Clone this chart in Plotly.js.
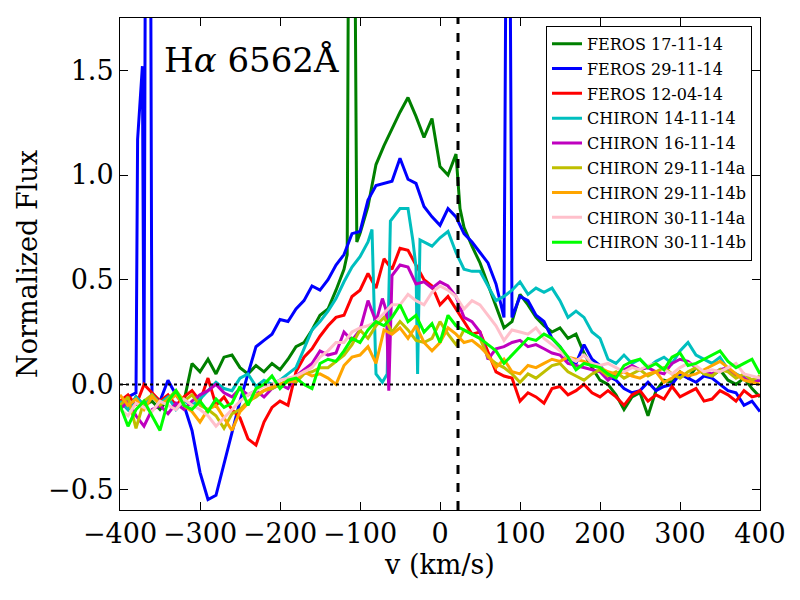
<!DOCTYPE html>
<html>
<head>
<meta charset="utf-8">
<script src="https://cdn.plot.ly/plotly-3.0.1.min.js"></script>
<style>
  html, body { margin: 0; padding: 0; background: #fff; }
  #plot { width: 800px; height: 600px; }
</style>
</head>
<body>
<div id="plot"></div>
<script>
// velocity grid (km/s) shared by the smoother CHIRON/FEROS series
var vel = [-400,-390,-380,-370,-360,-350,-340,-330,-320,-310,
           -300,-290,-280,-270,-260,-250,-240,-230,-220,-210,
           -200,-190,-180,-170,-160,-150,-140,-130,-120,-110,
           -100,-90,-80,-70,-60,-50,-40,-30,-20,-10,
           0,10,20,30,40,50,60,70,80,90,
           100,110,120,130,140,150,160,170,180,190,
           200,210,220,230,240,250,260,270,280,290,
           300,310,320,330,340,350,360,370,380,390,400];

// FEROS 29-11-14 (has narrow spikes, so its own velocities)
var blueV = [-400,-390,-380,-378,-372,-370,-368,-362,-360,
             -350,-340,-330,-320,-310,-300,-290,-280,-270,-260,
             -250,-240,-230,-220,-210,-200,-190,-180,-170,-160,
             -150,-140,-130,-120,-110,-100,-90,-80,-70,-60,
             -50,-40,-30,-20,-10,0,10,20,30,40,50,60,70,80,
             83,87,90,
             100,110,120,130,140,150,160,170,180,190,
             200,210,220,230,240,250,260,270,280,290,
             300,310,320,330,340,350,360,370,380,390,400];
var blueF = [-0.10,-0.06,-0.04,1.17,1.52,0.00,2.5,2.5,-0.05,
             -0.08,0.02,-0.05,-0.10,-0.22,-0.42,-0.55,-0.53,-0.38,-0.22,
             -0.08,0.05,0.18,0.21,0.24,0.31,0.30,0.36,0.40,0.47,
             0.45,0.50,0.57,0.62,0.72,0.73,0.88,0.95,0.96,0.97,
             1.08,0.98,0.96,0.85,0.80,0.76,0.84,0.80,0.72,0.68,0.63,0.58,0.48,0.32,
             2.5,2.5,0.32,
             0.42,0.40,0.33,0.30,0.22,0.18,0.12,0.10,0.19,0.12,
             0.09,0.04,0.02,-0.02,-0.04,-0.03,0.01,-0.03,-0.01,0.00,
             0.05,0.03,0.01,0.04,0.03,0.00,-0.03,-0.04,-0.10,-0.08,-0.13];

// FEROS 17-11-14
var greenV = [-400,-390,-380,-370,-360,-350,-340,-330,-320,-310,
              -300,-290,-280,-270,-260,-250,-240,-230,-220,-210,
              -200,-190,-180,-170,-160,-150,-140,-130,-120,
              -116,-114,-107,-104,
              -100,-90,-80,-70,-60,-50,-40,-30,-20,-10,
              0,10,20,25,30,40,50,60,70,80,90,
              100,110,120,130,140,150,160,170,180,190,
              200,210,220,230,240,250,260,270,280,290,
              300,310,320,330,340,350,360,370,380,390,400];
var greenF = [-0.08,-0.12,-0.06,-0.10,-0.08,-0.12,-0.07,-0.10,-0.08,0.10,
              0.06,0.12,0.05,0.13,0.14,0.08,0.05,0.09,0.06,0.10,
              0.07,0.12,0.18,0.20,0.26,0.33,0.36,0.45,0.55,
              0.62,2.5,2.5,0.68,
              0.72,0.85,1.05,1.14,1.22,1.30,1.37,1.28,1.18,1.27,
              1.04,1.00,1.10,0.84,0.75,0.66,0.58,0.48,0.38,0.27,0.30,
              0.43,0.38,0.32,0.28,0.25,0.27,0.22,0.24,0.15,0.08,
              0.02,0.00,-0.05,-0.12,-0.06,-0.04,-0.15,-0.03,0.02,0.01,
              0.06,0.03,0.08,0.05,0.04,0.07,0.02,0.00,0.03,-0.02,-0.06];

// FEROS 12-04-14
var redF = [-0.08,-0.05,-0.10,0.00,-0.04,-0.08,-0.05,-0.10,-0.06,-0.03,
            -0.08,0.03,-0.10,-0.06,-0.12,-0.16,-0.26,-0.29,-0.18,-0.11,
            -0.08,-0.10,0.06,0.13,0.17,0.23,0.28,0.32,0.33,0.42,
            0.45,0.53,0.46,0.60,0.55,0.65,0.64,0.57,0.50,0.47,
            0.38,0.42,0.36,0.30,0.24,0.25,0.15,0.06,0.04,0.03,
            -0.08,-0.04,-0.06,-0.09,-0.02,-0.01,-0.05,-0.03,0.00,-0.04,
            -0.06,-0.03,-0.06,-0.10,-0.05,-0.03,-0.08,-0.05,-0.07,-0.01,
            -0.06,-0.04,-0.02,-0.08,-0.07,-0.03,-0.05,-0.08,-0.03,-0.06,-0.05];

// CHIRON 14-11-14
var cyanV = [-400,-390,-380,-370,-360,-350,-340,-330,-320,-310,
             -300,-290,-280,-270,-260,-250,-240,-230,-220,-210,
             -200,-190,-180,-170,-160,-150,-140,-130,-120,-110,
             -100,-90,-85,-80,-72,-66,-62,-50,-40,-34,-30,-28,-25,-10,
             0,10,20,30,40,50,60,70,80,90,
             100,110,120,130,140,150,160,170,180,190,
             200,210,220,230,240,250,260,270,280,290,
             300,310,320,330,340,350,360,370,380,390,400];
var cyanF = [-0.08,-0.12,-0.06,-0.10,-0.05,-0.09,-0.06,-0.12,-0.08,-0.10,
             -0.07,-0.03,0.01,-0.02,-0.03,0.03,0.05,-0.01,0.02,0.00,
             0.02,0.05,0.08,0.17,0.26,0.30,0.35,0.41,0.49,0.56,
             0.61,0.68,0.74,0.05,0.01,0.05,0.78,0.84,0.84,0.69,0.56,0.05,0.69,0.66,
             0.70,0.73,0.63,0.55,0.54,0.54,0.47,0.40,0.42,0.45,
             0.49,0.43,0.46,0.44,0.46,0.40,0.32,0.35,0.32,0.25,
             0.22,0.12,0.10,0.14,0.10,0.12,0.08,0.11,0.13,0.10,
             0.16,0.20,0.14,0.12,0.10,0.13,0.07,0.05,0.03,0.01,0.02];

// CHIRON 16-11-14
var magV = [-400,-390,-380,-370,-360,-350,-340,-330,-320,-310,
            -300,-290,-280,-270,-260,-250,-240,-230,-220,-210,
            -200,-190,-180,-170,-160,-150,-140,-130,-120,-110,
            -100,-90,-80,-72,-67,-64,-60,-50,-40,-30,-20,-10,
            0,10,20,30,40,50,60,70,80,90,
            100,110,120,130,140,150,160,170,180,190,
            200,210,220,230,240,250,260,270,280,290,
            300,310,320,330,340,350,360,370,380,390,400];
var magF = [-0.12,-0.08,-0.15,-0.20,-0.12,-0.10,-0.14,-0.09,-0.12,-0.08,
            -0.05,-0.03,0.00,-0.04,-0.06,-0.02,-0.05,-0.03,-0.06,-0.02,
            0.00,-0.02,0.04,0.07,0.10,0.16,0.14,0.15,0.25,0.21,
            0.26,0.40,0.30,0.41,0.35,-0.03,0.52,0.57,0.56,0.48,0.49,0.46,
            0.49,0.47,0.42,0.32,0.30,0.25,0.12,0.17,0.18,0.20,
            0.21,0.18,0.19,0.17,0.15,0.14,0.10,0.09,0.08,0.07,
            0.06,0.02,0.05,0.07,0.09,0.07,0.08,0.06,0.05,0.10,
            0.12,0.11,0.08,0.06,0.05,0.07,0.08,0.04,0.03,0.01,0.02];

// CHIRON 29-11-14a
var oliveF = [-0.10,-0.06,-0.21,-0.08,-0.05,-0.10,-0.07,-0.03,-0.08,-0.05,
              -0.10,-0.12,-0.15,-0.21,-0.14,-0.12,-0.08,-0.06,-0.03,-0.02,
              0.00,0.02,0.01,0.05,0.06,0.08,0.08,0.11,0.14,0.19,
              0.26,0.22,0.28,0.32,0.25,0.30,0.26,0.21,0.20,0.22,
              0.30,0.24,0.19,0.26,0.24,0.22,0.13,0.10,0.08,0.05,
              0.01,0.05,0.03,0.06,0.09,0.10,0.06,0.04,0.02,0.05,
              0.07,0.04,0.06,0.03,0.05,0.07,0.04,0.06,0.08,0.05,
              0.03,0.06,0.08,0.05,0.04,0.07,0.06,0.03,0.05,0.02,0.04];

// CHIRON 29-11-14b
var orangeF = [-0.05,-0.10,-0.07,-0.12,-0.06,-0.09,-0.08,-0.05,-0.10,-0.13,
               -0.18,-0.12,-0.10,-0.16,-0.22,-0.13,-0.09,-0.05,-0.03,-0.01,
               0.00,0.01,0.02,0.06,0.04,0.05,0.03,0.00,0.09,0.13,
               0.14,0.18,0.10,0.26,0.24,0.27,0.22,0.28,0.20,0.16,
               0.20,0.27,0.24,0.20,0.21,0.18,0.14,0.08,0.12,0.06,
               0.05,0.09,0.08,0.10,0.12,0.11,0.13,0.12,0.11,0.09,
               0.08,0.06,0.05,0.06,0.04,0.03,0.05,0.06,0.01,0.03,
               0.06,0.04,0.05,0.07,0.09,0.11,0.08,0.05,0.02,0.01,0.00];

// CHIRON 30-11-14a
var pinkF = [-0.12,-0.15,-0.09,-0.11,-0.13,-0.08,-0.10,-0.12,-0.07,-0.10,
             -0.12,-0.15,-0.20,-0.16,-0.12,-0.08,-0.05,-0.03,-0.01,0.00,
             0.02,0.03,0.04,0.06,0.08,0.13,0.16,0.20,0.20,0.25,
             0.27,0.28,0.30,0.34,0.38,0.38,0.43,0.40,0.38,0.44,
             0.47,0.45,0.42,0.36,0.40,0.38,0.33,0.28,0.21,0.26,
             0.25,0.24,0.27,0.22,0.19,0.16,0.13,0.11,0.14,0.10,
             0.09,0.10,0.08,0.06,0.08,0.07,0.09,0.10,0.07,0.05,
             0.08,0.10,0.09,0.06,0.07,0.06,0.08,0.10,0.05,0.04,0.03];

// CHIRON 30-11-14b
var limeF = [-0.10,-0.20,-0.12,-0.08,-0.15,-0.22,-0.08,-0.03,-0.10,-0.12,
             -0.08,-0.13,-0.07,-0.11,-0.09,-0.01,-0.10,-0.02,0.00,0.04,
             -0.02,0.02,0.03,0.00,-0.02,0.10,0.12,0.11,0.16,0.22,
             0.20,0.26,0.30,0.28,0.32,0.38,0.30,0.33,0.25,0.29,
             0.20,0.33,0.28,0.26,0.24,0.22,0.19,0.16,0.10,0.14,
             0.18,0.22,0.21,0.24,0.22,0.18,0.13,0.07,0.10,0.09,
             0.08,0.05,0.03,0.09,0.11,0.12,0.08,0.10,0.07,0.13,
             0.15,0.09,0.10,0.12,0.14,0.16,0.11,0.08,0.10,0.12,0.05];

var vSys = 22.5;   // dashed line
var fluxZero = 0;  // dotted line

var font = "DejaVu Serif, serif";

function line(name, x, y, color) {
  return {x: x, y: y, name: name, legendgroup: name, type: "scatter", mode: "lines",
          line: {color: color, width: 3}, hoverinfo: "skip"};
}

var traces = [
  line("FEROS 17-11-14", greenV, greenF, "#008000"),
  line("FEROS 29-11-14", blueV, blueF, "#0000ff"),
  line("FEROS 12-04-14", vel, redF, "#ff0000"),
  line("CHIRON 14-11-14", cyanV, cyanF, "#00bfbf"),
  line("CHIRON 16-11-14", magV, magF, "#bf00bf"),
  line("CHIRON 29-11-14a", vel, oliveF, "#bfbf00"),
  line("CHIRON 29-11-14b", vel, orangeF, "#ffa500"),
  line("CHIRON 30-11-14a", vel, pinkF, "#ffc0cb"),
  line("CHIRON 30-11-14b", vel, limeF, "#00ff00")
];

var axisCommon = {
  showline: true, linecolor: "black", linewidth: 1, mirror: "ticks",
  ticks: "inside", ticklen: 8, tickwidth: 1, tickcolor: "black",
  showgrid: false, zeroline: false,
  tickfont: {family: font, size: 27, color: "black"}
};

var layout = {
  width: 800, height: 600,
  margin: {l: 120, r: 40, t: 18, b: 90},
  paper_bgcolor: "white", plot_bgcolor: "white",
  showlegend: true,
  xaxis: Object.assign({}, axisCommon, {
    range: [-400, 400], tickvals: [-400,-300,-200,-100,0,100,200,300,400],
    title: {text: "v (km/s)", font: {family: font, size: 27, color: "black"}, standoff: 5}
  }),
  yaxis: Object.assign({}, axisCommon, {
    range: [-0.6, 1.75], tickvals: [-0.5, 0, 0.5, 1, 1.5], ticktext: ["\u22120.5","0.0","0.5","1.0","1.5"],
    title: {text: "Normalized Flux", font: {family: font, size: 27, color: "black"}, standoff: 2}
  }),
  legend: {
    x: 0.9875, y: 0.984, xanchor: "right", yanchor: "top",
    traceorder: "grouped", tracegroupgap: 1,
    bgcolor: "white", bordercolor: "black", borderwidth: 1,
    font: {family: font, size: 16, color: "black"}
  },
  shapes: [
    {type: "line", xref: "paper", x0: 0, x1: 1, yref: "y", y0: fluxZero, y1: fluxZero,
     line: {color: "black", width: 2, dash: "dot"}, layer: "above"},
    {type: "line", xref: "x", x0: vSys, x1: vSys, yref: "paper", y0: 0, y1: 1,
     line: {color: "black", width: 3, dash: "dash"}, layer: "above"}
  ],
  annotations: [{
    xref: "paper", yref: "paper", x: 0.066, y: 0.915, xanchor: "left", yanchor: "middle",
    text: "H<i>\u03b1</i> 6562\u00c5", showarrow: false,
    font: {family: font, size: 34, color: "black"}
  }]
};

Plotly.newPlot("plot", traces, layout, {displayModeBar: false, staticPlot: true});
</script>
</body>
</html>
